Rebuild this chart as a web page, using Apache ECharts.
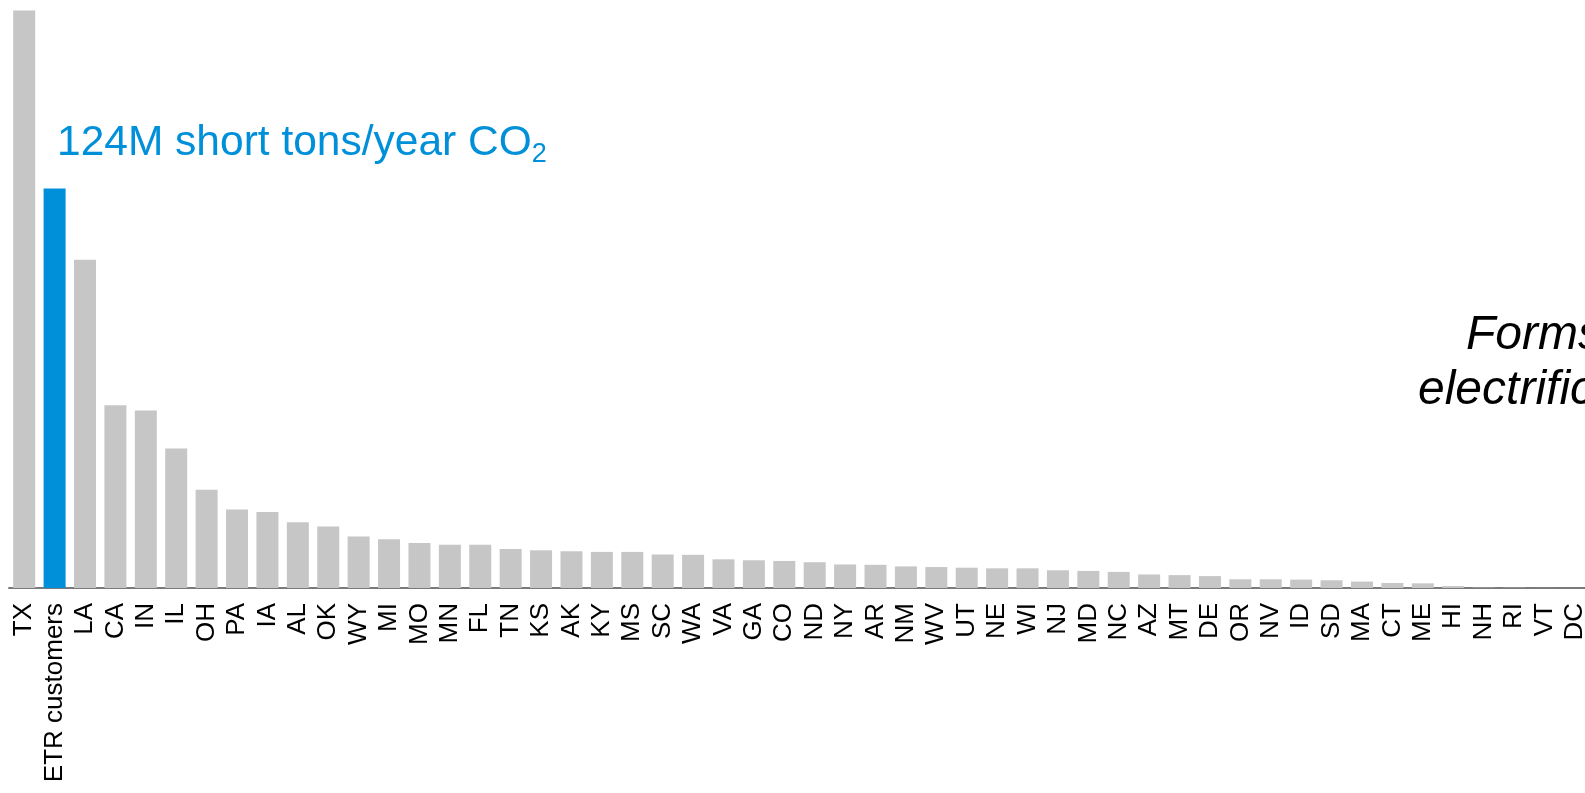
<!DOCTYPE html>
<html>
<head>
<meta charset="utf-8">
<title>CO2 emissions by state</title>
<script src="https://cdn.jsdelivr.net/npm/echarts@6/dist/echarts.min.js"></script>
<style>
html, body { margin: 0; padding: 0; background: #fff; }
#chartBox { width: 1585px; height: 793px; }
</style>
</head>
<body>
<div id="chartBox"></div>
<script>
// M short tons/year CO2
var categories = ["TX", "ETR customers", "LA", "CA", "IN", "IL", "OH", "PA", "IA", "AL", "OK", "WY", "MI", "MO", "MN", "FL", "TN", "KS", "AK", "KY", "MS", "SC", "WA", "VA", "GA", "CO", "ND", "NY", "AR", "NM", "WV", "UT", "NE", "WI", "NJ", "MD", "NC", "AZ", "MT", "DE", "OR", "NV", "ID", "SD", "MA", "CT", "ME", "HI", "NH", "RI", "VT", "DC"];
var emissions = [179.2, 124, 101.9, 56.7, 55.1, 43.3, 30.5, 24.4, 23.6, 20.4, 19.1, 16.0, 15.1, 14.0, 13.4, 13.4, 12.1, 11.7, 11.4, 11.2, 11.2, 10.4, 10.3, 8.9, 8.6, 8.4, 8.0, 7.3, 7.2, 6.7, 6.5, 6.3, 6.1, 6.1, 5.5, 5.3, 5.0, 4.2, 4.0, 3.7, 2.7, 2.7, 2.6, 2.4, 2.0, 1.55, 1.45, 0.6, 0.1, 0.08, 0.02, 0];
var highlightName = "ETR customers";
var annotationText = "124M short tons/year CO";
var sideNoteLines = ["Forms of", "electrification"];

var grey = "#c6c6c6";
var blue = "#0090da";
var fontName = "Liberation Sans, Arial, sans-serif";

var chartLine = echarts.init(document.getElementById("chartBox"));

var barData = emissions.map(function (v, i) {
  if (categories[i] === highlightName) {
    return { value: v, itemStyle: { color: blue } };
  }
  return v;
});

var option = {
  animation: false,
  grid: {
    left: 9,
    top: 8,
    width: 1581,
    height: 580,
    containLabel: false,
    outerBoundsMode: "none"
  },
  xAxis: {
    type: "category",
    data: categories,
    axisTick: { show: false },
    axisLine: {
      lineStyle: { color: "#7a7a7a", width: 2 }
    },
    axisLabel: {
      interval: 0,
      rotate: 90,
      margin: 15,
      color: "#000",
      fontSize: 26,
      fontFamily: fontName
    }
  },
  yAxis: {
    type: "value",
    min: 0,
    max: 180,
    show: false,
    splitLine: { show: false }
  },
  series: [
    {
      type: "bar",
      data: barData,
      barWidth: 22,
      itemStyle: { color: grey },
      silent: true
    }
  ],
  graphic: [
    {
      type: "text",
      left: 57,
      top: 122,
      style: {
        text: "{m|" + annotationText + "}{s|2}",
        rich: {
          m: { fontSize: 42.5, lineHeight: 50, fill: blue, fontFamily: fontName },
          s: { fontSize: 27, lineHeight: 27, fill: blue, verticalAlign: "bottom", fontFamily: fontName }
        }
      }
    },
    {
      type: "text",
      left: 1466,
      top: 312,
      style: {
        text: sideNoteLines[0],
        fill: "#000",
        font: "italic 48px 'Liberation Sans', Arial, sans-serif"
      }
    },
    {
      type: "text",
      left: 1418,
      top: 367,
      style: {
        text: sideNoteLines[1],
        fill: "#000",
        font: "italic 48px 'Liberation Sans', Arial, sans-serif"
      }
    }
  ]
};

chartLine.setOption(option);
</script>
</body>
</html>
